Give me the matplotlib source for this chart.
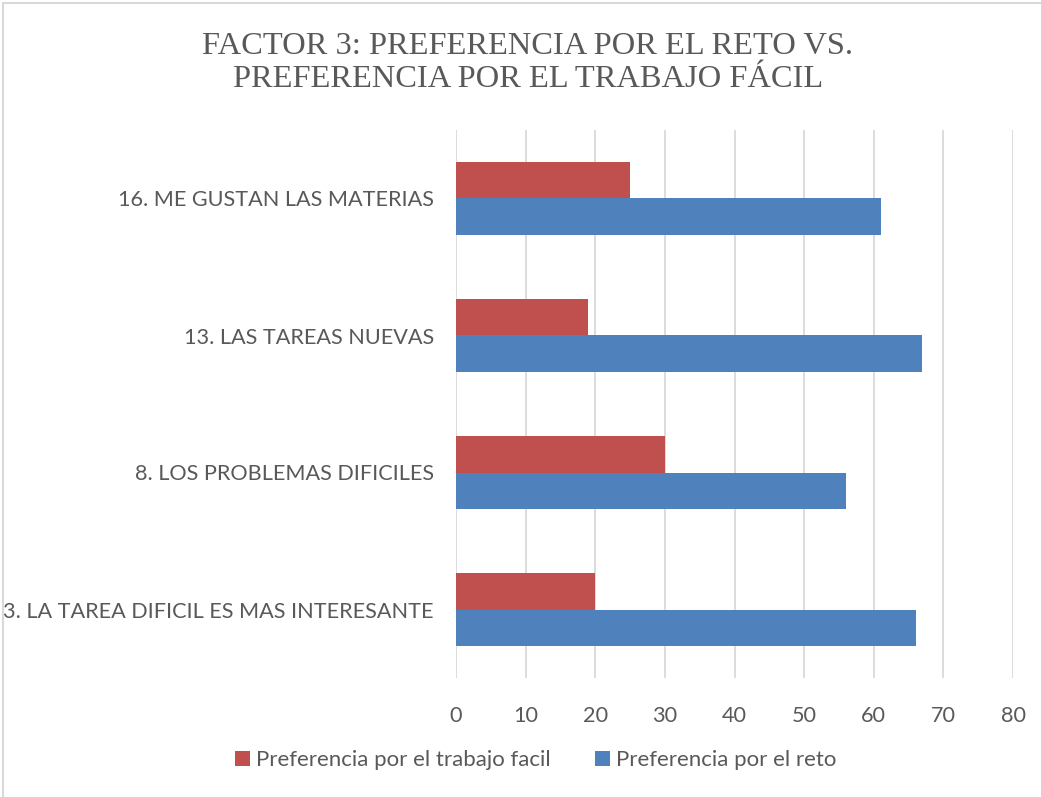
import matplotlib.pyplot as plt
from matplotlib.patches import Rectangle
import numpy as np

# data
categories = ["3. LA TAREA DIFICIL ES MAS INTERESANTE",
              "8. LOS PROBLEMAS DIFICILES",
              "13. LAS TAREAS NUEVAS",
              "16. ME GUSTAN LAS MATERIAS"]
facil = [20, 30, 19, 25]
reto = [66, 56, 67, 61]
series_names = ["Preferencia por el trabajo facil", "Preferencia por el reto"]

red = "#C0504D"
blue = "#4F81BD"
text_col = "#595959"

plt.rcParams['font.family'] = ['Lato', 'DejaVu Sans']

fig = plt.figure(figsize=(10.41, 7.97), dpi=100)
ax = fig.add_axes([456 / 1041, 1 - 678 / 797, (1013 - 456) / 1041, (678 - 130) / 797])

y = np.arange(len(categories))
h = 0.265
ax.barh(y + h / 2, facil, height=h, color=red, label=series_names[0], zorder=3)
ax.barh(y - h / 2, reto, height=h, color=blue, label=series_names[1], zorder=3)

ax.set_xlim(0, 80)
ax.set_ylim(-0.5, len(categories) - 0.5)
ax.set_xticks(range(0, 81, 10))
ax.set_yticks(y)
ax.set_yticklabels(categories)
ax.grid(axis='x', color="#d9d9d9", linewidth=1.3, zorder=0)
ax.tick_params(axis='both', length=0, labelsize=15.6, colors=text_col)
ax.tick_params(axis='x', pad=20)
ax.tick_params(axis='y', pad=16)
for s in ax.spines.values():
    s.set_visible(False)

fig.text(0.507, 0.921, "FACTOR 3: PREFERENCIA POR EL RETO VS.\nPREFERENCIA POR EL TRABAJO FÁCIL",
         ha='center', va='center', fontsize=23.4, color=text_col,
         family='Liberation Serif', linespacing=1.15)

ax.legend(loc='center', bbox_to_anchor=(536 / 1041, 1 - 760 / 797),
          bbox_transform=fig.transFigure, ncol=2, frameon=False,
          fontsize=16, labelcolor=text_col, handlelength=0.65, handleheight=0.65,
          handletextpad=0.3, columnspacing=2.0)

# light chart border
fig.patches.append(Rectangle((3 / 1041, -0.01), 1.1, 1 - 3 / 797 + 0.01,
                             transform=fig.transFigure, fill=False,
                             edgecolor="#d9d9d9", linewidth=1.5))

plt.savefig("out.png", dpi=100)
